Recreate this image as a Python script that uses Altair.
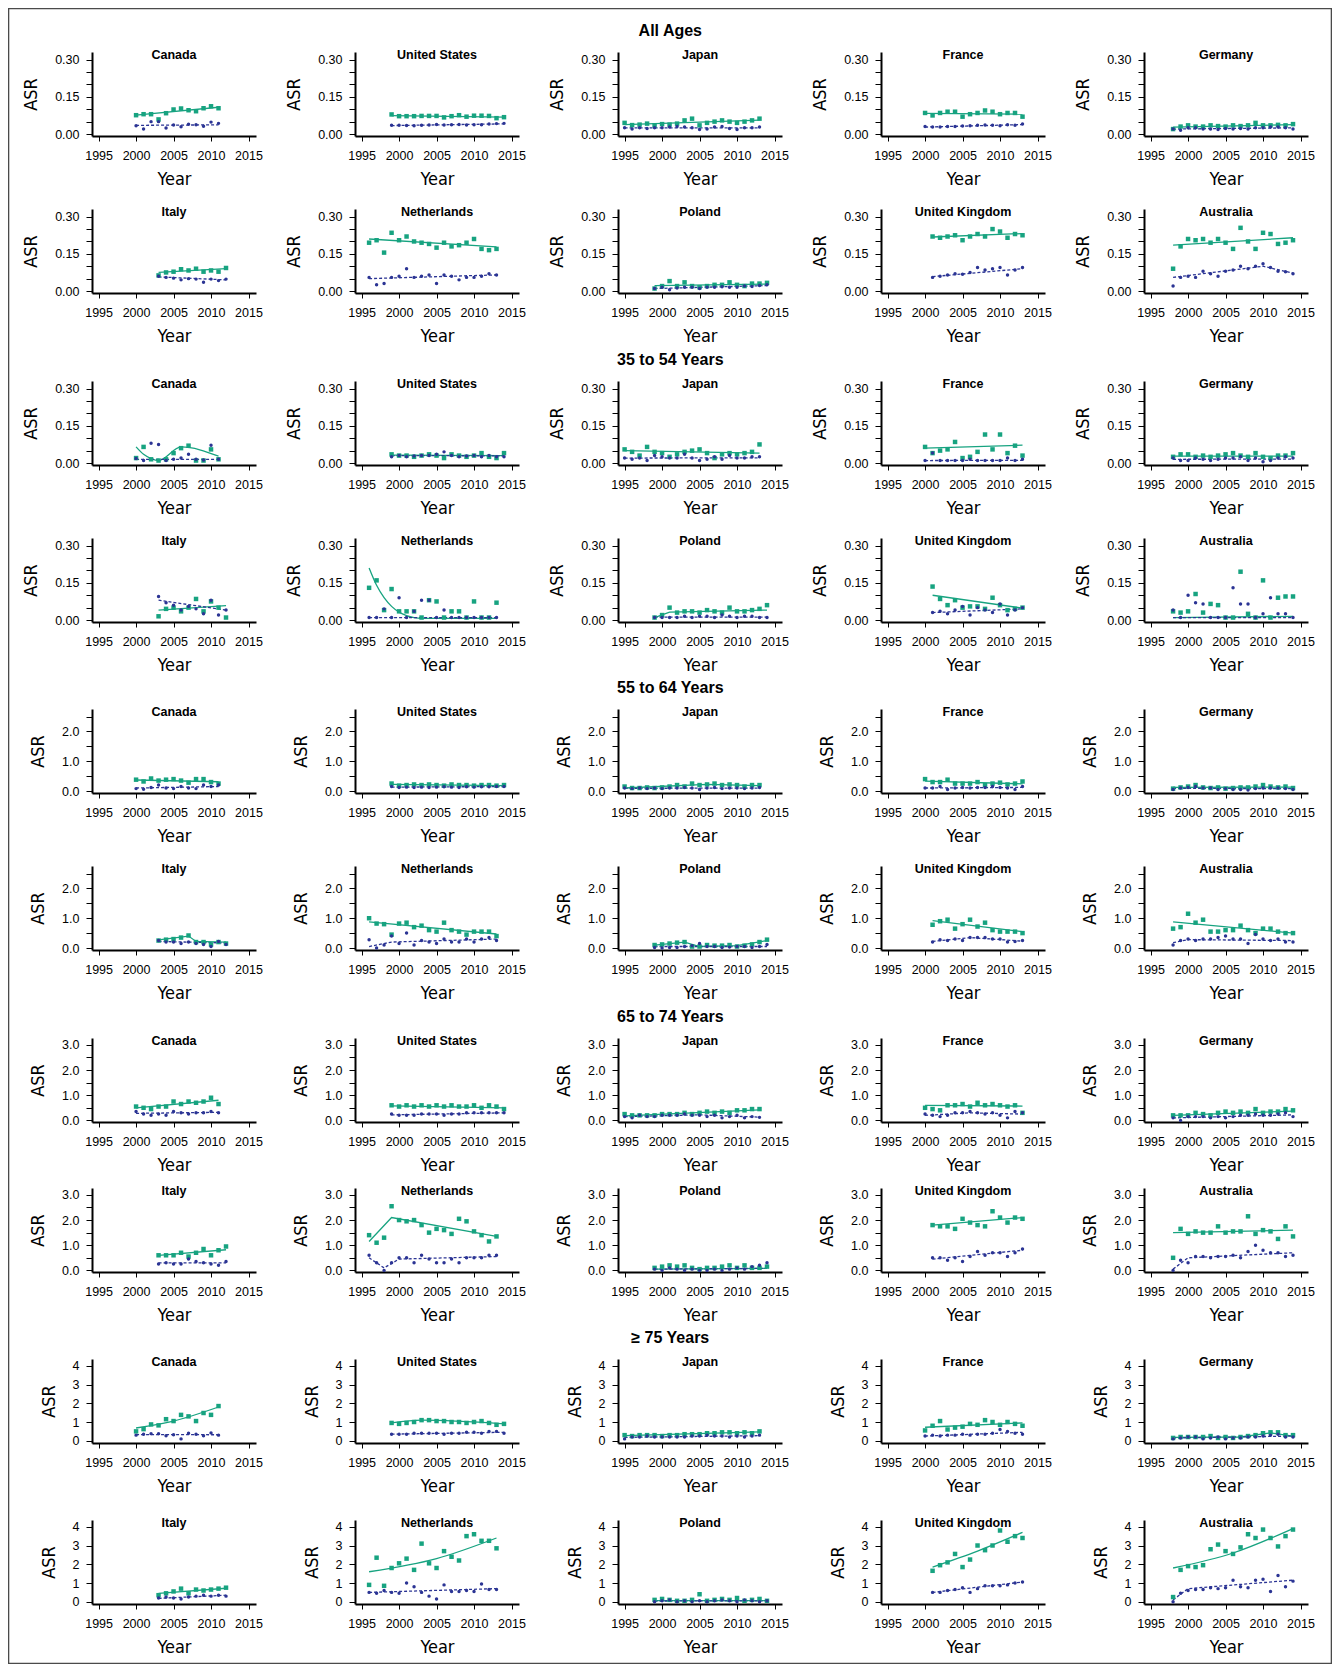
import json
import altair as alt
import pandas as pd

# ---------------- categories / ticks ----------------
ROW1 = ["Canada", "United States", "Japan", "France", "Germany"]
ROW2 = ["Italy", "Netherlands", "Poland", "United Kingdom", "Australia"]

FIRST_YEAR = {"Canada": 2000, "United States": 1999, "Japan": 1995, "France": 2000, "Germany": 1998,
              "Italy": 2003, "Netherlands": 1996, "Poland": 1999, "United Kingdom": 2001, "Australia": 1998}
LAST_YEAR = {"Canada": 2011, "United States": 2014, "Japan": 2013, "France": 2013, "Germany": 2014,
             "Italy": 2012, "Netherlands": 2013, "Poland": 2014, "United Kingdom": 2013, "Australia": 2014}

SECTION_TITLES = ["All Ages", "35 to 54 Years", "55 to 64 Years", "65 to 74 Years", "\u2265 75 Years"]

X_TICKS = [1995, 2000, 2005, 2010, 2015]
X_DOMAIN = [1994.12, 2016.0]

Y_TICKS_LOW = [0, 0.05, 0.1, 0.15, 0.2, 0.25, 0.3]
Y_LABELS_LOW = [0, 0.15, 0.3]
Y_DOMAIN_LOW = [-0.008, 0.331]
Y_TICKS_55 = [0, 0.5, 1, 1.5, 2, 2.5]
Y_LABELS_55 = [0, 1, 2]
Y_DOMAIN_55 = [-0.067, 2.752]
Y_TICKS_65 = [0, 0.5, 1, 1.5, 2, 2.5, 3]
Y_LABELS_65 = [0, 1, 2, 3]
Y_DOMAIN_65 = [-0.064, 3.274]
Y_TICKS_75 = [0, 1, 2, 3, 4]
Y_LABELS_75 = [0, 1, 2, 3, 4]
Y_DOMAIN_75 = [-0.12, 4.36]

# ---------------- All ages ----------------
ALL_SQ = {
    "Canada": [0.076, 0.080, 0.080, 0.059, 0.084, 0.099, 0.103, 0.096, 0.092, 0.104, 0.112, 0.104],
    "United States": [0.079, 0.072, 0.072, 0.072, 0.073, 0.073, 0.073, 0.067, 0.072, 0.076, 0.070, 0.074, 0.074, 0.073, 0.064, 0.068],
    "Japan": [0.045, 0.036, 0.038, 0.042, 0.035, 0.040, 0.038, 0.042, 0.055, 0.062, 0.035, 0.045, 0.050, 0.055, 0.050, 0.045, 0.050, 0.055, 0.062],
    "France": [0.085, 0.075, 0.085, 0.090, 0.090, 0.070, 0.080, 0.085, 0.095, 0.090, 0.080, 0.085, 0.085, 0.070],
    "Germany": [0.020, 0.030, 0.035, 0.030, 0.030, 0.035, 0.032, 0.030, 0.035, 0.032, 0.035, 0.045, 0.035, 0.035, 0.037, 0.035, 0.040],
    "Italy": [0.063, 0.075, 0.078, 0.088, 0.083, 0.090, 0.078, 0.083, 0.078, 0.093],
    "Netherlands": [0.195, 0.205, 0.155, 0.235, 0.205, 0.220, 0.200, 0.195, 0.190, 0.175, 0.195, 0.180, 0.185, 0.195, 0.210, 0.170, 0.165, 0.170],
    "Poland": [0.010, 0.020, 0.040, 0.020, 0.035, 0.020, 0.015, 0.020, 0.025, 0.025, 0.035, 0.025, 0.020, 0.030, 0.030, 0.033],
    "United Kingdom": [0.220, 0.215, 0.220, 0.225, 0.205, 0.220, 0.230, 0.220, 0.250, 0.240, 0.215, 0.230, 0.225],
    "Australia": [0.090, 0.180, 0.210, 0.205, 0.210, 0.195, 0.210, 0.195, 0.170, 0.255, 0.200, 0.170, 0.235, 0.230, 0.190, 0.195, 0.205],
}
ALL_DOT = {
    "Canada": [0.033, 0.020, 0.050, 0.050, 0.024, 0.036, 0.029, 0.039, 0.037, 0.031, 0.048, 0.043],
    "United States": [0.035, 0.035, 0.034, 0.033, 0.035, 0.036, 0.038, 0.036, 0.037, 0.038, 0.036, 0.037, 0.037, 0.040, 0.042, 0.043],
    "Japan": [0.025, 0.020, 0.025, 0.022, 0.025, 0.025, 0.028, 0.030, 0.028, 0.025, 0.018, 0.020, 0.028, 0.030, 0.022, 0.018, 0.025, 0.025, 0.028],
    "France": [0.030, 0.028, 0.028, 0.030, 0.030, 0.032, 0.033, 0.035, 0.036, 0.035, 0.033, 0.037, 0.035, 0.040],
    "Germany": [0.020, 0.015, 0.025, 0.025, 0.020, 0.020, 0.018, 0.022, 0.020, 0.022, 0.020, 0.025, 0.025, 0.028, 0.028, 0.025, 0.020],
    "Italy": [0.060, 0.055, 0.052, 0.045, 0.050, 0.048, 0.035, 0.048, 0.042, 0.048],
    "Netherlands": [0.055, 0.025, 0.030, 0.055, 0.060, 0.090, 0.055, 0.060, 0.065, 0.030, 0.065, 0.060, 0.045, 0.055, 0.055, 0.060, 0.070, 0.065],
    "Poland": [0.010, 0.015, 0.005, 0.012, 0.015, 0.015, 0.010, 0.015, 0.015, 0.017, 0.015, 0.015, 0.020, 0.018, 0.022, 0.025],
    "United Kingdom": [0.055, 0.060, 0.065, 0.070, 0.068, 0.075, 0.095, 0.085, 0.090, 0.095, 0.065, 0.085, 0.095],
    "Australia": [0.020, 0.055, 0.060, 0.055, 0.080, 0.070, 0.060, 0.080, 0.085, 0.100, 0.090, 0.100, 0.110, 0.095, 0.080, 0.078, 0.070],
}
ALL_SQ_FIT = {
    "Canada": [(2000, 0.076), (2011, 0.108)],
    "United States": [(1999, 0.074), (2014, 0.068)],
    "Japan": [(1995, 0.038), (2013, 0.056)],
    "France": [(2000, 0.083), (2013, 0.080)],
    "Germany": [(1998, 0.028), (2014, 0.038)],
    "Italy": [(2003, 0.075), (2012, 0.090)],
    "Netherlands": [(1996, 0.210), (2013, 0.178)],
    "Poland": [(1999, 0.022), (2014, 0.028)],
    "United Kingdom": [(2001, 0.218), (2013, 0.232)],
    "Australia": [(1998, 0.185), (2014, 0.215)],
}
ALL_DOT_FIT = {
    "Canada": [(2000, 0.035), (2011, 0.037)],
    "United States": [(1999, 0.034), (2014, 0.041)],
    "Japan": [(1995, 0.025), (2013, 0.025)],
    "France": [(2000, 0.028), (2013, 0.038)],
    "Germany": [(1998, 0.020), (2014, 0.025)],
    "Italy": [(2003, 0.057), (2012, 0.045)],
    "Netherlands": [(1996, 0.050), (2013, 0.065)],
    "Poland": [(1999, 0.010), (2014, 0.022)],
    "United Kingdom": [(2001, 0.058), (2013, 0.090)],
    "Australia": [(1998, 0.055), (2010, 0.100), (2014, 0.072)],
}

# ---------------- 35 to 54 years ----------------
Y35_SQ = {
    "Canada": [0.020, 0.065, 0.015, 0.010, 0.015, 0.040, 0.060, 0.070, 0.010, 0.010, 0.055, 0.015],
    "United States": [0.035, 0.030, 0.030, 0.025, 0.030, 0.035, 0.030, 0.020, 0.035, 0.030, 0.025, 0.030, 0.040, 0.025, 0.020, 0.040],
    "Japan": [0.055, 0.045, 0.030, 0.065, 0.045, 0.040, 0.025, 0.035, 0.045, 0.050, 0.055, 0.040, 0.020, 0.035, 0.040, 0.035, 0.040, 0.045, 0.075],
    "France": [0.065, 0.040, 0.050, 0.055, 0.085, 0.020, 0.025, 0.045, 0.115, 0.055, 0.115, 0.040, 0.070, 0.030],
    "Germany": [0.025, 0.035, 0.035, 0.025, 0.030, 0.025, 0.030, 0.035, 0.040, 0.030, 0.025, 0.040, 0.025, 0.020, 0.030, 0.030, 0.040],
    "Italy": [0.015, 0.045, 0.050, 0.035, 0.050, 0.085, 0.035, 0.075, 0.050, 0.010],
    "Netherlands": [0.130, 0.160, 0.040, 0.125, 0.035, 0.035, 0.035, 0.010, 0.080, 0.075, 0.010, 0.035, 0.035, 0.010, 0.075, 0.010, 0.010, 0.070],
    "Poland": [0.010, 0.020, 0.050, 0.030, 0.035, 0.035, 0.030, 0.040, 0.035, 0.030, 0.050, 0.035, 0.035, 0.040, 0.045, 0.060],
    "United Kingdom": [0.135, 0.085, 0.060, 0.080, 0.050, 0.055, 0.055, 0.045, 0.090, 0.060, 0.040, 0.045, 0.050],
    "Australia": [0.035, 0.030, 0.035, 0.105, 0.030, 0.065, 0.060, 0.010, 0.010, 0.195, 0.025, 0.010, 0.160, 0.010, 0.090, 0.095, 0.095],
}
Y35_DOT = {
    "Canada": [0.018, 0.010, 0.080, 0.075, 0.010, 0.015, 0.020, 0.035, 0.015, 0.012, 0.072, 0.015],
    "United States": [0.025, 0.030, 0.025, 0.028, 0.030, 0.030, 0.035, 0.045, 0.030, 0.025, 0.028, 0.030, 0.025, 0.030, 0.025, 0.025],
    "Japan": [0.020, 0.015, 0.020, 0.010, 0.030, 0.025, 0.020, 0.020, 0.035, 0.020, 0.010, 0.015, 0.025, 0.015, 0.030, 0.020, 0.020, 0.025, 0.025],
    "France": [0.010, 0.040, 0.010, 0.010, 0.010, 0.010, 0.015, 0.010, 0.010, 0.010, 0.010, 0.020, 0.010, 0.015],
    "Germany": [0.020, 0.010, 0.010, 0.020, 0.015, 0.010, 0.015, 0.020, 0.020, 0.025, 0.010, 0.020, 0.005, 0.010, 0.020, 0.025, 0.020],
    "Italy": [0.095, 0.070, 0.060, 0.040, 0.055, 0.045, 0.025, 0.080, 0.020, 0.040],
    "Netherlands": [0.010, 0.010, 0.045, 0.010, 0.090, 0.010, 0.035, 0.080, 0.080, 0.010, 0.040, 0.010, 0.010, 0.010, 0.010, 0.010, 0.010, 0.010],
    "Poland": [0.010, 0.010, 0.010, 0.010, 0.015, 0.010, 0.015, 0.015, 0.010, 0.020, 0.015, 0.010, 0.015, 0.015, 0.010, 0.010],
    "United Kingdom": [0.030, 0.035, 0.025, 0.040, 0.055, 0.020, 0.050, 0.040, 0.030, 0.065, 0.020, 0.040, 0.050],
    "Australia": [0.040, 0.010, 0.100, 0.070, 0.065, 0.010, 0.010, 0.010, 0.130, 0.065, 0.065, 0.010, 0.025, 0.090, 0.025, 0.025, 0.010],
}
Y35_SQ_FIT = {
    "Canada": [(2000, 0.065), (2001, 0.035), (2002, 0.018), (2003, 0.010), (2006, 0.065), (2011, 0.028)],
    "United States": [(1999, 0.032), (2014, 0.030)],
    "Japan": [(1995, 0.050), (2013, 0.040)],
    "France": [(2000, 0.060), (2013, 0.072)],
    "Germany": [(1998, 0.028), (2014, 0.028)],
    "Italy": [(2003, 0.040), (2012, 0.058)],
    "Netherlands": [(1996, 0.210), (1997, 0.140), (1998, 0.090), (1999, 0.055), (2000, 0.032),
                    (2001, 0.018), (2002, 0.010), (2003, 0.007), (2013, 0.007)],
    "Poland": [(1999, 0.010), (2001, 0.032), (2014, 0.040)],
    "United Kingdom": [(2001, 0.100), (2013, 0.048)],
    "Australia": [(1998, 0.010), (2014, 0.015)],
}
Y35_DOT_FIT = {
    "Canada": [(2000, 0.015), (2011, 0.015)],
    "United States": [(1999, 0.030), (2014, 0.029)],
    "Japan": [(1995, 0.020), (2013, 0.021)],
    "France": [(2000, 0.010), (2013, 0.011)],
    "Germany": [(1998, 0.015), (2014, 0.016)],
    "Italy": [(2003, 0.080), (2012, 0.040)],
    "Netherlands": [(1996, 0.010), (2013, 0.010)],
    "Poland": [(1999, 0.012), (2014, 0.012)],
    "United Kingdom": [(2001, 0.030), (2013, 0.045)],
    "Australia": [(1998, 0.010), (2014, 0.010)],
}

# ---------------- 55 to 64 years ----------------
Y55_SQ = {
    "Canada": [0.38, 0.32, 0.42, 0.35, 0.38, 0.40, 0.35, 0.28, 0.40, 0.40, 0.30, 0.25],
    "United States": [0.25, 0.18, 0.20, 0.22, 0.20, 0.22, 0.20, 0.18, 0.22, 0.20, 0.20, 0.18, 0.20, 0.20, 0.18, 0.20],
    "Japan": [0.15, 0.10, 0.10, 0.12, 0.10, 0.12, 0.15, 0.20, 0.15, 0.25, 0.20, 0.22, 0.25, 0.20, 0.22, 0.20, 0.15, 0.20, 0.20],
    "France": [0.40, 0.30, 0.30, 0.38, 0.25, 0.25, 0.25, 0.30, 0.20, 0.25, 0.28, 0.22, 0.25, 0.32],
    "Germany": [0.08, 0.12, 0.15, 0.20, 0.12, 0.10, 0.12, 0.08, 0.10, 0.12, 0.12, 0.15, 0.20, 0.15, 0.12, 0.15, 0.10],
    "Italy": [0.25, 0.28, 0.30, 0.35, 0.42, 0.20, 0.20, 0.12, 0.20, 0.15],
    "Netherlands": [1.00, 0.82, 0.80, 0.45, 0.82, 0.85, 0.70, 0.75, 0.60, 0.55, 0.85, 0.60, 0.55, 0.45, 0.55, 0.55, 0.55, 0.40],
    "Poland": [0.10, 0.12, 0.15, 0.18, 0.20, 0.05, 0.05, 0.10, 0.08, 0.08, 0.10, 0.05, 0.08, 0.12, 0.20, 0.28],
    "United Kingdom": [0.78, 0.90, 0.95, 0.65, 0.80, 0.95, 0.72, 0.85, 0.60, 0.55, 0.55, 0.55, 0.50],
    "Australia": [0.65, 0.70, 1.15, 0.85, 0.95, 0.55, 0.55, 0.60, 0.60, 0.75, 0.60, 0.50, 0.65, 0.65, 0.55, 0.50, 0.50],
}
Y55_DOT = {
    "Canada": [0.08, 0.06, 0.12, 0.20, 0.10, 0.08, 0.15, 0.10, 0.08, 0.20, 0.15, 0.20],
    "United States": [0.15, 0.12, 0.13, 0.12, 0.13, 0.12, 0.13, 0.14, 0.13, 0.12, 0.14, 0.13, 0.14, 0.14, 0.15, 0.15],
    "Japan": [0.10, 0.08, 0.10, 0.08, 0.10, 0.08, 0.10, 0.10, 0.12, 0.10, 0.05, 0.10, 0.12, 0.08, 0.10, 0.10, 0.08, 0.10, 0.12],
    "France": [0.10, 0.10, 0.15, 0.05, 0.10, 0.12, 0.10, 0.12, 0.12, 0.15, 0.12, 0.10, 0.05, 0.15],
    "Germany": [0.05, 0.10, 0.12, 0.15, 0.10, 0.10, 0.05, 0.08, 0.05, 0.05, 0.03, 0.08, 0.10, 0.10, 0.10, 0.08, 0.05],
    "Italy": [0.25, 0.20, 0.20, 0.15, 0.20, 0.15, 0.12, 0.05, 0.22, 0.12],
    "Netherlands": [0.28, 0.00, 0.10, 0.40, 0.15, 0.50, 0.10, 0.25, 0.20, 0.15, 0.30, 0.20, 0.20, 0.30, 0.20, 0.30, 0.35, 0.25],
    "Poland": [0.02, 0.00, 0.02, 0.02, 0.05, 0.08, 0.15, 0.05, 0.05, 0.02, 0.03, 0.05, 0.05, 0.02, 0.05, 0.12],
    "United Kingdom": [0.20, 0.28, 0.25, 0.30, 0.25, 0.35, 0.35, 0.35, 0.30, 0.30, 0.20, 0.22, 0.25],
    "Australia": [0.10, 0.25, 0.30, 0.25, 0.30, 0.30, 0.35, 0.40, 0.30, 0.30, 0.15, 0.45, 0.30, 0.25, 0.30, 0.20, 0.20],
}
Y55_SQ_FIT = {
    "Canada": [(2000, 0.37), (2011, 0.31)],
    "United States": [(1999, 0.22), (2014, 0.18)],
    "Japan": [(1995, 0.10), (2006, 0.22), (2013, 0.18)],
    "France": [(2000, 0.33), (2013, 0.24)],
    "Germany": [(1998, 0.12), (2014, 0.13)],
    "Italy": [(2003, 0.27), (2007, 0.40), (2008, 0.22), (2012, 0.20)],
    "Netherlands": [(1996, 0.88), (2013, 0.47)],
    "Poland": [(1999, 0.10), (2003, 0.20), (2005, 0.05), (2010, 0.08), (2014, 0.25)],
    "United Kingdom": [(2001, 0.92), (2013, 0.55)],
    "Australia": [(1998, 0.88), (2014, 0.50)],
}
Y55_DOT_FIT = {
    "Canada": [(2000, 0.10), (2011, 0.15)],
    "United States": [(1999, 0.13), (2014, 0.15)],
    "Japan": [(1995, 0.09), (2013, 0.10)],
    "France": [(2000, 0.10), (2013, 0.12)],
    "Germany": [(1998, 0.09), (2014, 0.08)],
    "Italy": [(2003, 0.22), (2012, 0.17)],
    "Netherlands": [(1996, 0.05), (1999, 0.20), (2013, 0.30)],
    "Poland": [(1999, 0.05), (2014, 0.05)],
    "United Kingdom": [(2001, 0.22), (2006, 0.35), (2013, 0.23)],
    "Australia": [(1998, 0.18), (2000, 0.28), (2014, 0.25)],
}

# ---------------- 65 to 74 years ----------------
Y65_SQ = {
    "Canada": [0.55, 0.50, 0.45, 0.55, 0.55, 0.75, 0.65, 0.75, 0.70, 0.75, 0.90, 0.65],
    "United States": [0.60, 0.55, 0.60, 0.55, 0.60, 0.55, 0.60, 0.55, 0.60, 0.55, 0.55, 0.60, 0.50, 0.60, 0.55, 0.45],
    "Japan": [0.25, 0.20, 0.20, 0.20, 0.20, 0.25, 0.25, 0.25, 0.30, 0.25, 0.30, 0.35, 0.30, 0.35, 0.30, 0.40, 0.40, 0.45, 0.45],
    "France": [0.50, 0.45, 0.40, 0.60, 0.60, 0.65, 0.55, 0.70, 0.60, 0.65, 0.60, 0.55, 0.60, 0.30],
    "Germany": [0.20, 0.20, 0.20, 0.30, 0.25, 0.20, 0.30, 0.35, 0.30, 0.35, 0.30, 0.45, 0.30, 0.35, 0.35, 0.45, 0.40],
    "Italy": [0.60, 0.60, 0.60, 0.70, 0.55, 0.70, 0.85, 0.60, 0.80, 0.95],
    "Netherlands": [1.40, 1.10, 1.30, 2.55, 2.00, 1.95, 2.00, 1.80, 1.50, 1.65, 1.60, 1.45, 2.05, 1.95, 1.55, 1.40, 1.15, 1.35],
    "Poland": [0.10, 0.15, 0.20, 0.15, 0.20, 0.10, 0.05, 0.10, 0.10, 0.15, 0.20, 0.10, 0.20, 0.10, 0.10, 0.15],
    "United Kingdom": [1.80, 1.75, 1.75, 1.65, 2.05, 1.90, 1.80, 1.75, 2.35, 2.10, 1.90, 2.10, 2.05],
    "Australia": [0.50, 1.65, 1.45, 1.55, 1.50, 1.50, 1.75, 1.50, 1.55, 1.55, 2.15, 1.45, 1.60, 1.55, 1.25, 1.75, 1.35],
}
Y65_DOT = {
    "Canada": [0.35, 0.25, 0.20, 0.25, 0.20, 0.35, 0.30, 0.25, 0.30, 0.30, 0.35, 0.30],
    "United States": [0.25, 0.20, 0.20, 0.20, 0.25, 0.25, 0.25, 0.20, 0.25, 0.25, 0.30, 0.30, 0.30, 0.30, 0.30, 0.30],
    "Japan": [0.15, 0.10, 0.20, 0.15, 0.15, 0.20, 0.20, 0.20, 0.25, 0.20, 0.20, 0.15, 0.20, 0.10, 0.15, 0.20, 0.10, 0.15, 0.12],
    "France": [0.25, 0.20, 0.15, 0.20, 0.30, 0.30, 0.35, 0.30, 0.25, 0.30, 0.20, 0.10, 0.35, 0.30],
    "Germany": [0.10, 0.00, 0.15, 0.15, 0.15, 0.10, 0.15, 0.10, 0.15, 0.20, 0.20, 0.25, 0.20, 0.20, 0.25, 0.30, 0.15],
    "Italy": [0.25, 0.30, 0.25, 0.25, 0.45, 0.35, 0.30, 0.25, 0.20, 0.35],
    "Netherlands": [0.60, 0.30, 0.00, 0.30, 0.50, 0.50, 0.30, 0.60, 0.45, 0.30, 0.30, 0.45, 0.30, 0.50, 0.50, 0.50, 0.60, 0.60],
    "Poland": [0.05, 0.00, 0.10, 0.05, 0.00, 0.05, 0.00, 0.00, 0.05, 0.00, 0.05, 0.10, 0.05, 0.15, 0.20, 0.30],
    "United Kingdom": [0.50, 0.50, 0.40, 0.50, 0.35, 0.55, 0.75, 0.60, 0.70, 0.70, 0.55, 0.70, 0.85],
    "Australia": [0.00, 0.40, 0.30, 0.55, 0.55, 0.50, 0.55, 0.55, 0.60, 0.50, 0.75, 1.00, 0.80, 0.70, 0.70, 0.55, 0.60],
}
Y65_SQ_FIT = {
    "Canada": [(2000, 0.50), (2011, 0.80)],
    "United States": [(1999, 0.58), (2014, 0.50)],
    "Japan": [(1995, 0.18), (2013, 0.42)],
    "France": [(2000, 0.60), (2013, 0.57)],
    "Germany": [(1998, 0.20), (2014, 0.37)],
    "Italy": [(2003, 0.60), (2012, 0.82)],
    "Netherlands": [(1996, 1.15), (1999, 2.10), (2013, 1.35)],
    "Poland": [(1999, 0.05), (2014, 0.08)],
    "United Kingdom": [(2001, 1.80), (2013, 2.10)],
    "Australia": [(1998, 1.50), (2014, 1.60)],
}
Y65_DOT_FIT = {
    "Canada": [(2000, 0.28), (2011, 0.32)],
    "United States": [(1999, 0.22), (2014, 0.30)],
    "Japan": [(1995, 0.15), (2005, 0.22), (2013, 0.13)],
    "France": [(2000, 0.20), (2006, 0.30), (2013, 0.25)],
    "Germany": [(1998, 0.10), (2014, 0.22)],
    "Italy": [(2003, 0.30), (2012, 0.30)],
    "Netherlands": [(1996, 0.50), (1998, 0.10), (2000, 0.45), (2013, 0.55)],
    "Poland": [(1999, 0.05), (2014, 0.08)],
    "United Kingdom": [(2001, 0.45), (2013, 0.80)],
    "Australia": [(1998, 0.05), (2000, 0.50), (2014, 0.70)],
}

# ---------------- 75 years and older ----------------
Y75_SQ = {
    "Canada": [0.50, 0.62, 0.87, 0.82, 1.15, 1.05, 1.38, 1.30, 1.05, 1.48, 1.38, 1.85],
    "United States": [0.95, 0.90, 0.95, 1.00, 1.10, 1.10, 1.05, 1.05, 1.00, 1.00, 0.95, 1.00, 1.05, 0.95, 0.85, 0.90],
    "Japan": [0.30, 0.25, 0.30, 0.30, 0.30, 0.25, 0.30, 0.30, 0.35, 0.35, 0.35, 0.40, 0.40, 0.45, 0.45, 0.40, 0.45, 0.40, 0.50],
    "France": [0.55, 0.80, 1.05, 0.60, 0.70, 0.75, 0.90, 0.85, 1.10, 1.00, 0.85, 1.00, 0.90, 0.80],
    "Germany": [0.15, 0.20, 0.20, 0.20, 0.20, 0.25, 0.15, 0.20, 0.15, 0.20, 0.25, 0.30, 0.40, 0.45, 0.45, 0.30, 0.30],
    "Italy": [0.35, 0.45, 0.55, 0.70, 0.45, 0.65, 0.60, 0.65, 0.70, 0.75],
    "Netherlands": [0.90, 2.35, 0.85, 1.80, 2.05, 2.30, 1.70, 3.10, 2.05, 1.80, 2.70, 2.40, 2.20, 3.50, 3.60, 3.25, 3.25, 2.85],
    "Poland": [0.10, 0.15, 0.10, 0.05, 0.05, 0.10, 0.40, 0.05, 0.10, 0.15, 0.10, 0.20, 0.05, 0.10, 0.15, 0.05],
    "United Kingdom": [1.65, 1.95, 2.10, 2.55, 1.85, 2.25, 3.00, 2.75, 3.00, 3.80, 3.20, 3.50, 3.40],
    "Australia": [0.25, 1.70, 1.90, 1.85, 1.95, 2.80, 3.05, 2.70, 2.55, 2.90, 3.60, 3.40, 3.85, 3.40, 2.95, 3.50, 3.85],
}
Y75_DOT = {
    "Canada": [0.30, 0.35, 0.38, 0.38, 0.27, 0.32, 0.10, 0.40, 0.35, 0.27, 0.42, 0.30],
    "United States": [0.35, 0.35, 0.35, 0.40, 0.40, 0.40, 0.40, 0.35, 0.40, 0.40, 0.45, 0.45, 0.40, 0.50, 0.50, 0.40],
    "Japan": [0.10, 0.20, 0.20, 0.25, 0.20, 0.20, 0.20, 0.20, 0.20, 0.25, 0.25, 0.30, 0.25, 0.25, 0.20, 0.25, 0.20, 0.25, 0.30],
    "France": [0.25, 0.30, 0.25, 0.30, 0.30, 0.35, 0.30, 0.35, 0.35, 0.40, 0.60, 0.50, 0.40, 0.35],
    "Germany": [0.10, 0.15, 0.20, 0.20, 0.10, 0.15, 0.20, 0.10, 0.15, 0.15, 0.20, 0.20, 0.25, 0.30, 0.35, 0.20, 0.20],
    "Italy": [0.20, 0.25, 0.20, 0.15, 0.25, 0.30, 0.35, 0.30, 0.35, 0.30],
    "Netherlands": [0.50, 0.45, 0.60, 0.50, 0.45, 1.00, 0.80, 0.50, 0.30, 0.15, 0.90, 0.55, 0.55, 0.60, 0.55, 0.95, 0.65, 0.65],
    "Poland": [0.00, 0.05, 0.10, 0.00, 0.05, 0.00, 0.05, 0.00, 0.05, 0.10, 0.05, 0.00, 0.10, 0.05, 0.00, 0.05],
    "United Kingdom": [0.50, 0.50, 0.60, 0.65, 0.75, 0.50, 0.70, 0.85, 0.85, 0.85, 0.90, 1.00, 1.05],
    "Australia": [0.00, 0.45, 0.60, 0.65, 0.65, 0.75, 0.70, 0.75, 1.15, 0.80, 0.75, 1.15, 1.20, 0.55, 1.40, 0.80, 1.10],
}
Y75_SQ_FIT = {
    "Canada": [(2000, 0.68), (2005, 1.05), (2011, 1.80)],
    "United States": [(1999, 0.95), (2003, 1.10), (2014, 0.90)],
    "Japan": [(1995, 0.27), (2013, 0.47)],
    "France": [(2000, 0.72), (2013, 0.95)],
    "Germany": [(1998, 0.18), (2007, 0.20), (2011, 0.42), (2014, 0.25)],
    "Italy": [(2003, 0.45), (2012, 0.72)],
    "Netherlands": [(1996, 1.60), (2005, 2.30), (2013, 3.40)],
    "Poland": [(1999, 0.06), (2014, 0.06)],
    "United Kingdom": [(2001, 1.85), (2007, 2.70), (2013, 3.70)],
    "Australia": [(1998, 1.80), (2006, 2.60), (2014, 3.90)],
}
Y75_DOT_FIT = {
    "Canada": [(2000, 0.33), (2011, 0.32)],
    "United States": [(1999, 0.35), (2014, 0.45)],
    "Japan": [(1995, 0.18), (2013, 0.27)],
    "France": [(2000, 0.25), (2013, 0.45)],
    "Germany": [(1998, 0.15), (2014, 0.25)],
    "Italy": [(2003, 0.18), (2012, 0.35)],
    "Netherlands": [(1996, 0.50), (2013, 0.70)],
    "Poland": [(1999, 0.04), (2014, 0.05)],
    "United Kingdom": [(2001, 0.50), (2013, 1.05)],
    "Australia": [(1998, 0.10), (2000, 0.70), (2014, 1.15)],
}

# fitted curves drawn smooth (the rest are straight joinpoint segments)
CURVED_FITS = [
    (1, "Canada", "sq"), (1, "Netherlands", "sq"),
    (4, "Canada", "sq"), (4, "United States", "sq"), (4, "Netherlands", "sq"),
    (4, "United Kingdom", "sq"), (4, "Australia", "sq"),
]

SECTIONS = [
    dict(sq=ALL_SQ, dot=ALL_DOT, sq_fit=ALL_SQ_FIT, dot_fit=ALL_DOT_FIT,
         ticks=Y_TICKS_LOW, labels=Y_LABELS_LOW, domain=Y_DOMAIN_LOW, fmt=".2f"),
    dict(sq=Y35_SQ, dot=Y35_DOT, sq_fit=Y35_SQ_FIT, dot_fit=Y35_DOT_FIT,
         ticks=Y_TICKS_LOW, labels=Y_LABELS_LOW, domain=Y_DOMAIN_LOW, fmt=".2f"),
    dict(sq=Y55_SQ, dot=Y55_DOT, sq_fit=Y55_SQ_FIT, dot_fit=Y55_DOT_FIT,
         ticks=Y_TICKS_55, labels=Y_LABELS_55, domain=Y_DOMAIN_55, fmt=".1f"),
    dict(sq=Y65_SQ, dot=Y65_DOT, sq_fit=Y65_SQ_FIT, dot_fit=Y65_DOT_FIT,
         ticks=Y_TICKS_65, labels=Y_LABELS_65, domain=Y_DOMAIN_65, fmt=".1f"),
    dict(sq=Y75_SQ, dot=Y75_DOT, sq_fit=Y75_SQ_FIT, dot_fit=Y75_DOT_FIT,
         ticks=Y_TICKS_75, labels=Y_LABELS_75, domain=Y_DOMAIN_75, fmt="d"),
]

# ---------------- styling / layout ----------------
GREEN = "#17a380"
NAVY = "#2b3494"
FRAME = "#4a4a4a"
LABEL_FONT = "Liberation Sans, Arial, Helvetica, sans-serif"
TITLE_FONT = "Liberation Sans Narrow, DejaVu Sans Condensed, Arial Narrow, sans-serif"

PW, PH = 164, 84
COL_L = [84, 75, 75, 75, 75]
COL_R = [24, 24, 24, 24, 24]
ROW_T = [44, 17, 32, 17, 31, 17, 32, 10, 31, 21]
ROW_B = [56, 56, 56, 56, 56, 56, 56, 56, 56, 60]
FW = 1.3  # frame line width

ONE = pd.DataFrame({"k": [0]})

x_axis = alt.Axis(values=X_TICKS, format="d", title="Year", grid=False,
                  domainColor="black", domainWidth=2, tickColor="black", tickWidth=1, tickSize=5,
                  labelFont=LABEL_FONT, labelFontSize=12.5, labelColor="black", labelPadding=8,
                  labelFlush=False, labelOverlap=False,
                  titleFont=TITLE_FONT, titleFontSize=18, titleFontWeight="normal",
                  titleColor="black", titlePadding=9)


def y_axis(sec):
    expr = "indexof(%s, datum.value) >= 0 ? format(datum.value, '%s') : ''" % (
        json.dumps(sec["labels"]), sec["fmt"])
    return alt.Axis(values=sec["ticks"], labelExpr=expr, title="ASR", grid=False,
                    domainColor="black", domainWidth=2, tickColor="black", tickWidth=1, tickSize=6,
                    labelFont=LABEL_FONT, labelFontSize=12.5, labelColor="black", labelPadding=7,
                    labelFlush=False, labelOverlap=False,
                    titleFont=TITLE_FONT, titleFontSize=18, titleFontWeight="normal",
                    titleColor="black", titlePadding=14)


def make_panel(si, ri, ci, country):
    sec = SECTIONS[si]
    k = si * 2 + ri
    years = list(range(FIRST_YEAR[country], LAST_YEAR[country] + 1))
    sq, dot = sec["sq"][country], sec["dot"][country]
    if len(sq) != len(years) or len(dot) != len(years):
        raise ValueError("length mismatch %s %s %d %d %d" % (SECTION_TITLES[si], country,
                                                             len(years), len(sq), len(dot)))
    df_sq = pd.DataFrame({"year": years, "asr": sq})
    df_dot = pd.DataFrame({"year": years, "asr": dot})
    df_sqf = pd.DataFrame(sec["sq_fit"][country], columns=["year", "asr"])
    df_dotf = pd.DataFrame(sec["dot_fit"][country], columns=["year", "asr"])
    interp_sq = "monotone" if (si, country, "sq") in CURVED_FITS else "linear"
    interp_dot = "monotone" if (si, country, "dot") in CURVED_FITS else "linear"

    xs = alt.Scale(domain=X_DOMAIN, nice=False, zero=False)
    ys = alt.Scale(domain=sec["domain"], nice=False, zero=False)
    ya = y_axis(sec)

    def enc():
        return dict(x=alt.X("year:Q", scale=xs, axis=x_axis),
                    y=alt.Y("asr:Q", scale=ys, axis=ya))

    L, R, T, B = COL_L[ci], COL_R[ci], ROW_T[k], ROW_B[k]
    layers = [
        # invisible cell that fixes the grid cell extent
        alt.Chart(ONE).mark_rect(opacity=0).encode(
            x=alt.value(-L), x2=alt.value(PW + R), y=alt.value(-T), y2=alt.value(PH + B)),
        alt.Chart(df_sqf).mark_line(color=GREEN, strokeWidth=1.3, interpolate=interp_sq).encode(**enc()),
        alt.Chart(df_dotf).mark_line(color=NAVY, strokeWidth=1.3, strokeDash=[3, 2],
                                     interpolate=interp_dot).encode(**enc()),
        alt.Chart(df_sq).mark_square(size=20, color=GREEN, opacity=1).encode(**enc()),
        alt.Chart(df_dot).mark_circle(size=12, color=NAVY, opacity=1).encode(**enc()),
        alt.Chart(ONE).mark_text(font=LABEL_FONT, fontSize=12.5, fontWeight="bold", color="black",
                                 align="center", baseline="middle").encode(
            x=alt.value(PW / 2), y=alt.value(2.5), text=alt.value(country)),
    ]
    if ri == 0 and ci == 2:
        layers.append(alt.Chart(ONE).mark_text(font=LABEL_FONT, fontSize=16, fontWeight="bold",
                                               color="black", align="center", baseline="middle").encode(
            x=alt.value(52.3), y=alt.value(-21.5), text=alt.value(SECTION_TITLES[si])))
    # outer frame pieces (thin filled rects lying exactly inside the cell)
    fr = dict(color=FRAME, opacity=1)
    if ci == 0:
        layers.append(alt.Chart(ONE).mark_rect(**fr).encode(
            x=alt.value(-L), x2=alt.value(-L + FW), y=alt.value(-T), y2=alt.value(PH + B)))
    if ci == 4:
        layers.append(alt.Chart(ONE).mark_rect(**fr).encode(
            x=alt.value(PW + R - FW), x2=alt.value(PW + R), y=alt.value(-T), y2=alt.value(PH + B)))
    if k == 0:
        layers.append(alt.Chart(ONE).mark_rect(**fr).encode(
            x=alt.value(-L), x2=alt.value(PW + R), y=alt.value(-T), y2=alt.value(-T + FW)))
    if k == 9:
        layers.append(alt.Chart(ONE).mark_rect(**fr).encode(
            x=alt.value(-L), x2=alt.value(PW + R), y=alt.value(PH + B - FW), y2=alt.value(PH + B)))
    return alt.layer(*layers).properties(width=PW, height=PH)


panels = []
for si in range(len(SECTIONS)):
    for ri, row in enumerate([ROW1, ROW2]):
        for ci, country in enumerate(row):
            panels.append(make_panel(si, ri, ci, country))

chart = alt.concat(*panels, columns=5, spacing=0, bounds="full", align="each").properties(
    padding=0).configure_view(strokeWidth=0)

chart.save("out.html", embed_options={"renderer": "svg", "actions": False})
